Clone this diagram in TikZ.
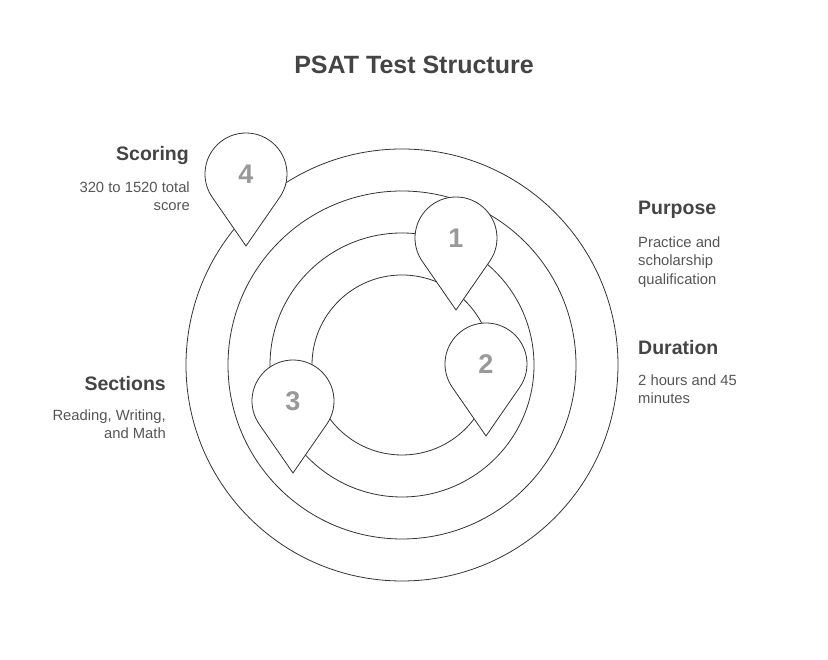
\documentclass[tikz,border=0pt]{standalone}
\usepackage{fontspec}
\setmainfont{Liberation Sans}
\definecolor{ink}{HTML}{444444}
\definecolor{soft}{HTML}{555555}
\definecolor{numgray}{HTML}{999999}
\tikzstyle{ring}=[draw=black!80, line width=0.8pt]
\tikzstyle{pin}=[draw=black!80, fill=white, line width=0.8pt]
\tikzstyle{num}=[text=numgray, font=\fontsize{27}{27}\selectfont\bfseries]
\tikzstyle{head}=[text=ink, font=\fontsize{19.5}{19.5}\selectfont\bfseries, inner sep=0pt]
\tikzstyle{body}=[text=soft, font=\fontsize{14.8}{18.5}\selectfont, inner sep=0pt]
% teardrop pin: center (#2,#3), tip 72 below, radius 41
\newcommand{\pinmark}[4]{%
  \draw[pin] (#2,#3-72) -- ($(#2,#3)+(-34.7:41)$) arc[start angle=-34.7, end angle=214.7, radius=41] -- cycle;
  \node (#1) at (#2,#3) [num] {#4};}
\usetikzlibrary{calc}
\begin{document}
\begin{tikzpicture}[x=1pt,y=1pt]
\useasboundingbox (0,0) rectangle (828,660);
\coordinate (c) at (402,295);
\draw[ring] (c) circle[radius=216];
\draw[ring] (c) circle[radius=174];
\draw[ring] (c) circle[radius=132];
\draw[ring] (c) circle[radius=90];

\pinmark{p4}{246}{486}{4}
\pinmark{p1}{456}{422}{1}
\pinmark{p2}{486}{296}{2}
\pinmark{p3}{293}{259}{3}

\node (title) at (414,595) [text=ink, font=\fontsize{25}{25}\selectfont\bfseries] {PSAT Test Structure};

\node (scoring) at (189,504) [head, anchor=east] {Scoring};
\node (scoringtx) at (190,464) [body, anchor=east, align=right] {320 to 1520 total\\score};
\node (purpose) at (638,450) [head, anchor=west] {Purpose};
\node (purposetx) at (638,398) [body, anchor=west, align=left] {Practice and\\scholarship\\qualification};
\node (duration) at (638,312) [head, anchor=west] {Duration};
\node (durationtx) at (638,271) [body, anchor=west, align=left] {2 hours and 45\\minutes};
\node (sections) at (166,276) [head, anchor=east] {Sections};
\node (sectionstx) at (166,236) [body, anchor=east, align=right] {Reading, Writing,\\and Math};
\end{tikzpicture}
\end{document}
